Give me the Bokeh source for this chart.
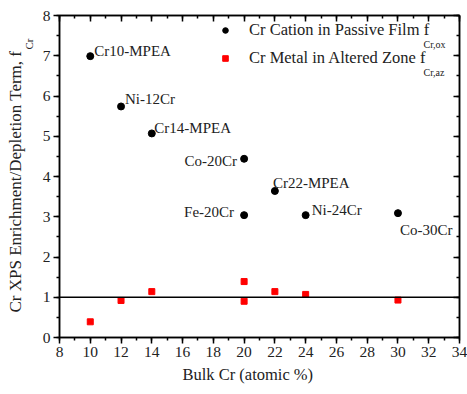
import math
from bokeh.plotting import figure
from bokeh.models import (ColumnDataSource, Span, Label, Legend, LegendItem,
                          LinearAxis, FixedTicker, Range1d, Title)
from bokeh.core.properties import value
from bokeh.embed import file_html
from bokeh.resources import INLINE

# ---- data ----
alloy_names = ["Cr10-MPEA", "Ni-12Cr", "Cr14-MPEA", "Co-20Cr", "Cr22-MPEA",
               "Fe-20Cr", "Ni-24Cr", "Co-30Cr"]
bulk_cr = [10, 12, 14, 20, 22, 20, 24, 30]
f_cr_ox = [6.99, 5.74, 5.07, 4.44, 3.64, 3.04, 3.04, 3.09]
f_cr_az = [0.39, 0.92, 1.14, 0.90, 1.14, 1.39, 1.07, 0.93]

x_ticks = [8, 10, 12, 14, 16, 18, 20, 22, 24, 26, 28, 30, 32, 34]
y_ticks = [0, 1, 2, 3, 4, 5, 6, 7, 8]

# ---- label styling (screen offsets, px) ----
lab_dx = [4, 4, 2.5, -7, -2, -10, 6, 2]
lab_dy = [-5, -7, -5, 2, -8, -3, -5, 17]
lab_align = ["left", "left", "left", "right", "left", "right", "left", "left"]

FONT = "Liberation Serif"
TXT = "#222222"

p = figure(width=467, height=394, output_backend="svg", toolbar_location=None,
           x_range=Range1d(8, 34), y_range=Range1d(0, 8),
           min_border_left=59, min_border_right=8, min_border_top=15,
           min_border_bottom=57)
p.xgrid.visible = False
p.ygrid.visible = False
p.outline_line_color = "black"
p.outline_line_width = 1.5
p.background_fill_color = "white"
p.border_fill_color = "white"

x_minor = list(range(8, 35))
y_minor = [i * 0.5 for i in range(17)]

for ax in (p.xaxis[0], p.yaxis[0]):
    ax.axis_line_width = 1.5
    ax.axis_line_color = "black"
    ax.major_tick_line_width = 1.5
    ax.minor_tick_line_width = 1.5
    ax.major_tick_in = 0
    ax.major_tick_out = 6
    ax.minor_tick_in = 0
    ax.minor_tick_out = 3
    ax.major_label_text_font = FONT
    ax.major_label_text_font_size = "15.5px"
    ax.major_label_text_color = TXT
    ax.major_label_standoff = 3

p.xaxis[0].ticker = FixedTicker(ticks=x_ticks, minor_ticks=x_minor)
p.yaxis[0].ticker = FixedTicker(ticks=y_ticks, minor_ticks=y_minor)

# mirrored axes with inward ticks and no labels
for loc, ticks, minor in (("above", x_ticks, x_minor), ("right", y_ticks, y_minor)):
    ax = LinearAxis(ticker=FixedTicker(ticks=ticks, minor_ticks=minor))
    ax.major_label_overrides = {t: "" for t in ticks}
    ax.major_label_standoff = 0
    ax.axis_line_width = 1.5
    ax.major_tick_line_width = 1.5
    ax.minor_tick_line_width = 1.5
    ax.major_tick_in = 6
    ax.major_tick_out = 0
    ax.minor_tick_in = 3
    ax.minor_tick_out = 0
    p.add_layout(ax, loc)

# reference line at f = 1
p.add_layout(Span(location=1, dimension="width", line_color="black", line_width=1.5))

src = ColumnDataSource(dict(x=bulk_cr, ox=f_cr_ox, az=f_cr_az, name=alloy_names,
                            dx=lab_dx, dy=lab_dy, align=lab_align))

r_ox = p.scatter("x", "ox", source=src, marker="circle", size=7,
                 fill_color="black", line_color="black")
r_az = p.scatter("x", "az", source=src, marker="square", size=6,
                 fill_color="#ff0000", line_color="#ff0000")

p.text("x", "ox", text="name", source=src, x_offset="dx", y_offset="dy",
       text_align="align", text_baseline="alphabetic",
       text_font=value(FONT), text_font_size="15px", text_color=TXT)

legend = Legend(items=[LegendItem(label="Cr Cation in Passive Film f", renderers=[r_ox]),
                       LegendItem(label="Cr Metal in Altered Zone f", renderers=[r_az])],
                location=(159, 269), padding=0, margin=0, spacing=8,
                glyph_width=14, glyph_height=14, label_standoff=17,
                background_fill_alpha=0, border_line_alpha=0,
                label_text_font=FONT, label_text_font_size="16.5px",
                label_text_color=TXT)
p.add_layout(legend)

# legend subscripts (frame-relative screen px)
for txt, ys in (("Cr,ox", 293), ("Cr,az", 265)):
    p.add_layout(Label(x=364, y=ys, x_units="screen", y_units="screen", text=txt,
                       text_font=FONT, text_font_size="10px", text_color=TXT,
                       text_baseline="alphabetic"))

# axis titles as side-panel titles
def side_title(text, size, align, offset, standoff):
    return Title(text=text, align=align, offset=offset, standoff=standoff,
                 text_font=FONT, text_font_size=size, text_font_style="normal",
                 text_color=TXT)

p.add_layout(side_title("Bulk Cr (atomic %)", "16.5px", "left", 123, 6), "below")
p.add_layout(side_title("Cr", "11px", "left", 288, 9), "left")
p.add_layout(side_title("Cr XPS Enrichment/Depletion Term, f", "17px", "left", 25, -17), "left")

open("out.html", "w").write(file_html(p, INLINE))
